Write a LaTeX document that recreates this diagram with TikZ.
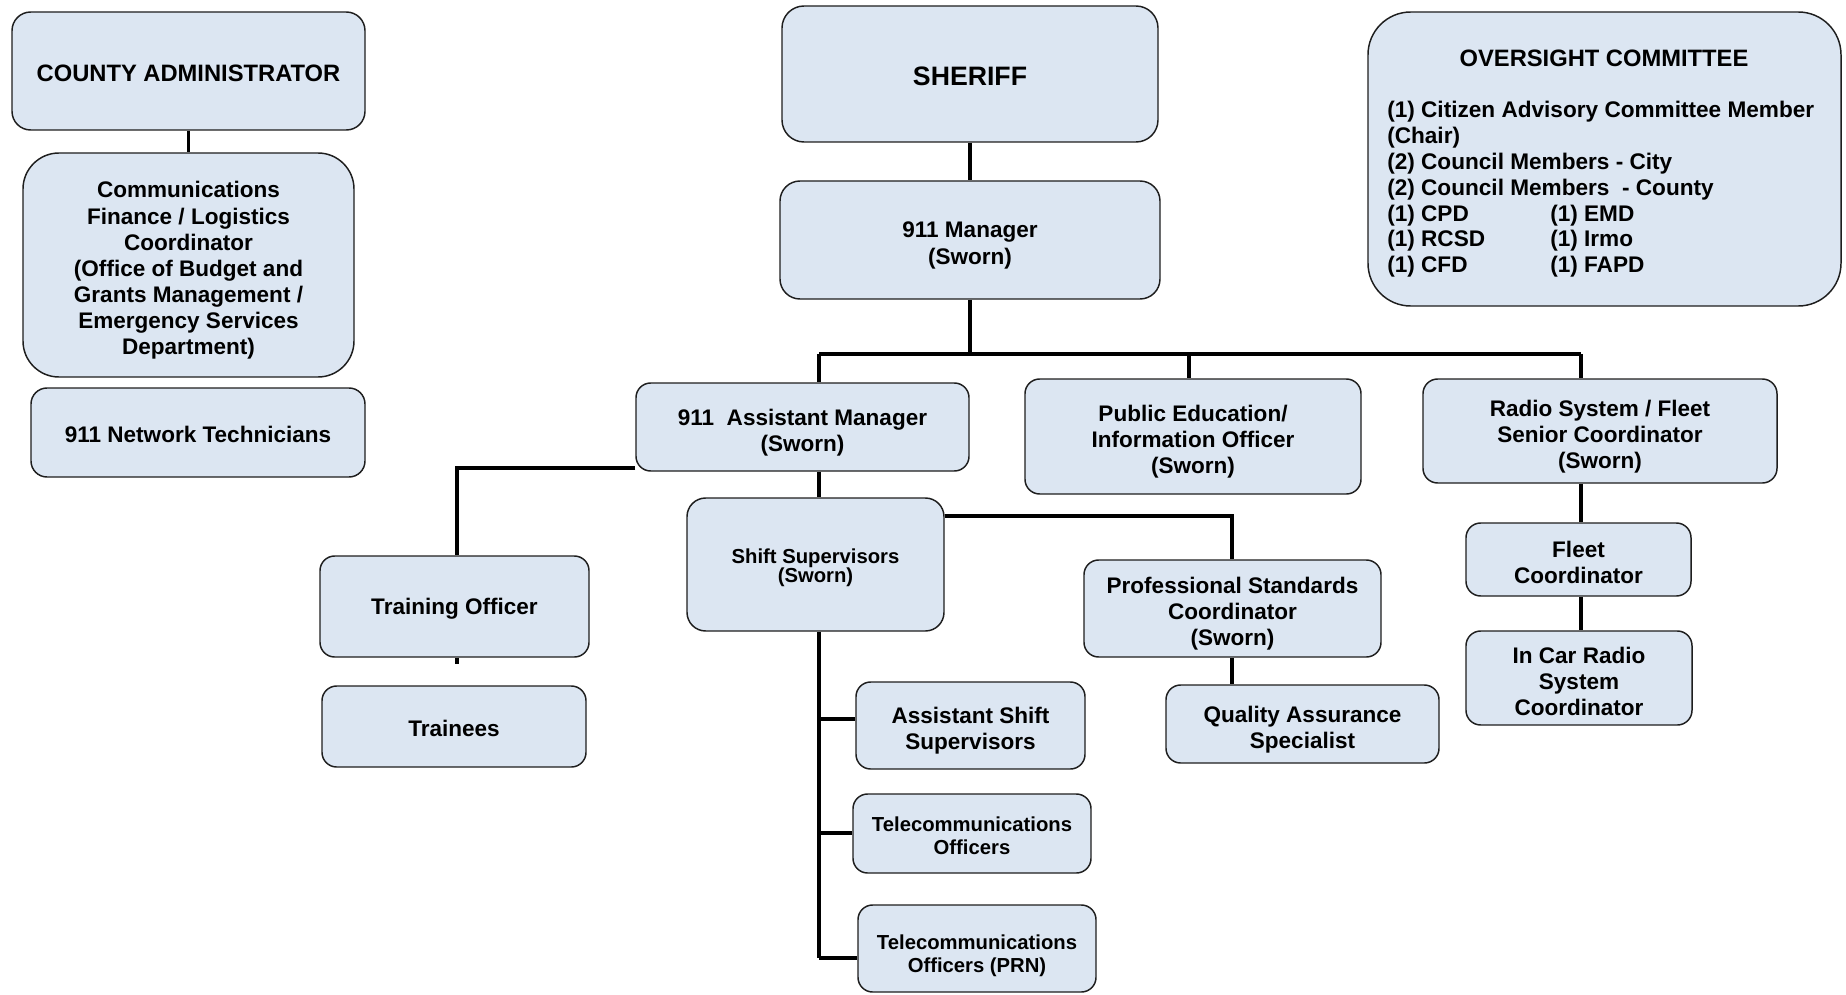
\documentclass[tikz,border=0pt]{standalone}
\usepackage{fontspec}
\setmainfont{Liberation Sans}
\usetikzlibrary{backgrounds}
\definecolor{boxfill}{HTML}{DCE6F2}
\definecolor{boxline}{HTML}{1E1E1E}
\newcommand\fmain{\fontsize{16.9}{19.6}\selectfont\bfseries}
\newcommand\fbig{\fontsize{17.8}{20}\selectfont\bfseries}
\newcommand\fsher{\fontsize{20}{22}\selectfont\bfseries}
\newcommand\ftel{\fontsize{15.2}{17.6}\selectfont\bfseries}
\newcommand\fshift{\fontsize{15.2}{14.3}\selectfont\bfseries}
\newcommand\fover{\fontsize{16.95}{19.35}\selectfont\bfseries}
\tikzset{
  box/.style={draw=boxline, line width=1.1pt, fill=boxfill, rounded corners=11pt, inner sep=0pt},
  span/.style n args={4}{minimum width={(#3-#1)*0.75pt}, minimum height={(#4-#2)*0.75pt},
              at={({(#1+#3)/2},{(#2+#4)/2})}},
  tx/.style={inner sep=0pt, align=center, font=\fmain},
  conn/.style={line width=2.3pt, black},
  ovtext/.style={inner sep=0pt, anchor=base west, font=\fover},
}
\begin{document}
\begin{tikzpicture}[x=0.75pt, y=-0.75pt]
\useasboundingbox (0,0) rectangle (1846,995);

% ---------- boxes ----------
\node[box, rounded corners=14pt, span={12}{12}{365}{130}] (ca) {};
\node[box, rounded corners=27pt, span={23}{153}{354}{377}] (comm) {};
\node[box, rounded corners=12pt, span={31}{388}{365}{477}] (net) {};
\node[box, rounded corners=16.5pt, span={782}{6}{1158}{142}] (sheriff) {};
\node[box, rounded corners=15pt, span={780}{181}{1160}{299}] (mgr) {};
\node[box, rounded corners=32pt, span={1368}{12}{1841}{306}] (over) {};
\node[box, span={636}{383}{969}{471}] (asst) {};
\node[box, span={1025}{379}{1361}{494}] (pub) {};
\node[box, span={1423}{379}{1777}{483}] (radio) {};
\node[box, span={320}{556}{589}{657}] (train) {};
\node[box, span={322}{686}{586}{767}] (trainees) {};
\node[box, rounded corners=14pt, span={687}{498}{944}{631}] (shift) {};
\node[box, span={1084}{560}{1381}{657}] (prof) {};
\node[box, span={1166}{685}{1439}{763}] (qa) {};
\node[box, span={1466}{523}{1691}{596}] (fleet) {};
\node[box, span={1466}{631}{1692}{725}] (incar) {};
\node[box, span={856}{682}{1085}{769}] (ass) {};
\node[box, span={853}{794}{1091}{873}] (tel) {};
\node[box, span={858}{905}{1096}{992}] (prn) {};

% ---------- texts ----------
\node[tx, font=\fbig, yshift=-1.5pt] (ca-t) at (ca.center) {COUNTY ADMINISTRATOR};
\node[tx, yshift=-4.1pt] (comm-t) at (comm.center) {Communications\\Finance / Logistics\\Coordinator\\(Office of Budget and\\Grants Management /\\Emergency Services\\Department)};
\node[tx, yshift=-1.5pt] (net-t) at (net.center) {911 Network Technicians};
\node[tx, font=\fsher, yshift=-1.5pt] (sheriff-t) at (sheriff.center) {SHERIFF};
\node[tx, yshift=-4.1pt] (mgr-t) at (mgr.center) {911 Manager\\(Sworn)};
\node[tx, yshift=-4.1pt] (asst-t) at (asst.center) {911~~Assistant Manager\\(Sworn)};
\node[tx, yshift=-4.1pt] (pub-t) at (pub.center) {Public Education/\\Information Officer\\(Sworn)};
\node[tx, yshift=-4.1pt] (radio-t) at (radio.center) {Radio System / Fleet\\Senior Coordinator\\(Sworn)};
\node[tx, yshift=-1.5pt] (train-t) at (train.center) {Training Officer};
\node[tx, yshift=-1.5pt] (trainees-t) at (trainees.center) {Trainees};
\node[tx, font=\fshift, yshift=-2.4pt] (shift-t) at (shift.center) {Shift Supervisors\\(Sworn)};
\node[tx, yshift=-4.1pt] (prof-t) at (prof.center) {Professional Standards\\Coordinator\\(Sworn)};
\node[tx, yshift=-4.1pt] (qa-t) at (qa.center) {Quality Assurance\\Specialist};
\node[tx, yshift=-2.4pt] (fleet-t) at (fleet.center) {Fleet\\Coordinator};
\node[tx, yshift=-2.4pt] (incar-t) at (incar.center) {In Car Radio\\System\\Coordinator};
\node[tx, yshift=-4.1pt] (ass-t) at (ass.center) {Assistant Shift\\Supervisors};
\node[tx, font=\ftel, yshift=-1.5pt] (tel-t) at (tel.center) {Telecommunications\\Officers};
\node[tx, font=\ftel, yshift=-5.5pt] (prn-t) at (prn.center) {Telecommunications\\Officers (PRN)};

% oversight committee text
\node[inner sep=0pt, anchor=base, font=\fbig] (ovt) at (1604,66.5) {OVERSIGHT COMMITTEE};
\node[ovtext] (ov1) at (1387,118) {(1) Citizen Advisory Committee Member};
\node[ovtext] (ov2) at (1387,143.8) {(Chair)};
\node[ovtext] (ov3) at (1387,169.6) {(2) Council Members - City};
\node[ovtext] (ov4) at (1387,195.4) {(2) Council Members\ \ - County};
\node[ovtext] (ov5) at (1387,221.2) {(1) CPD};
\node[ovtext] (ov6) at (1550,221.2) {(1) EMD};
\node[ovtext] (ov7) at (1387,247) {(1) RCSD};
\node[ovtext] (ov8) at (1550,247) {(1) Irmo};
\node[ovtext] (ov9) at (1387,272.8) {(1) CFD};
\node[ovtext] (ov10) at (1550,272.8) {(1) FAPD};

% ---------- helper coordinates ----------
\coordinate (busL) at (819,354);
\coordinate (busM) at (1189,354);
\coordinate (busR) at (1581,354);
\coordinate (tl) at (457,468);
\coordinate (ps) at (1232,516);
\coordinate (b1) at (819,719);
\coordinate (b2) at (819,833);
\coordinate (b3) at (819,958);

% ---------- connectors ----------
\begin{scope}[on background layer]
  \draw[conn] (ca.south) -- (comm.north);
  \draw[conn] (sheriff.south) -- (mgr.north);
  \draw[conn] (mgr.south) -- (mgr.south |- busL);
  \draw[conn] (busL) -- (busR);
  \draw[conn] (busL) -- (busL |- asst.north);
  \draw[conn] (busM) -- (busM |- pub.north);
  \draw[conn] (busR) -- (busR |- radio.north);
  \draw[conn] (busR |- radio.south) -- (busR |- fleet.north);
  \draw[conn] (busR |- fleet.south) -- (busR |- incar.north);
  \draw[conn] (asst.west |- tl) -- (tl) -- (tl |- train.north);
  \draw[conn] (tl |- train.south) -- ++(0,6);
  \draw[conn] (busL |- asst.south) -- (busL |- shift.north);
  \draw[conn] (shift.east |- ps) -- (ps) -- (ps |- prof.north);
  \draw[conn] (ps |- prof.south) -- (ps |- qa.north);
  \draw[conn] (busL |- shift.south) -- (b3);
  \draw[conn] (b1) -- (b1 -| ass.west);
  \draw[conn] (b2) -- (b2 -| tel.west);
  \draw[conn] (b3) -- (b3 -| prn.west);
\end{scope}
\end{tikzpicture}
\end{document}
